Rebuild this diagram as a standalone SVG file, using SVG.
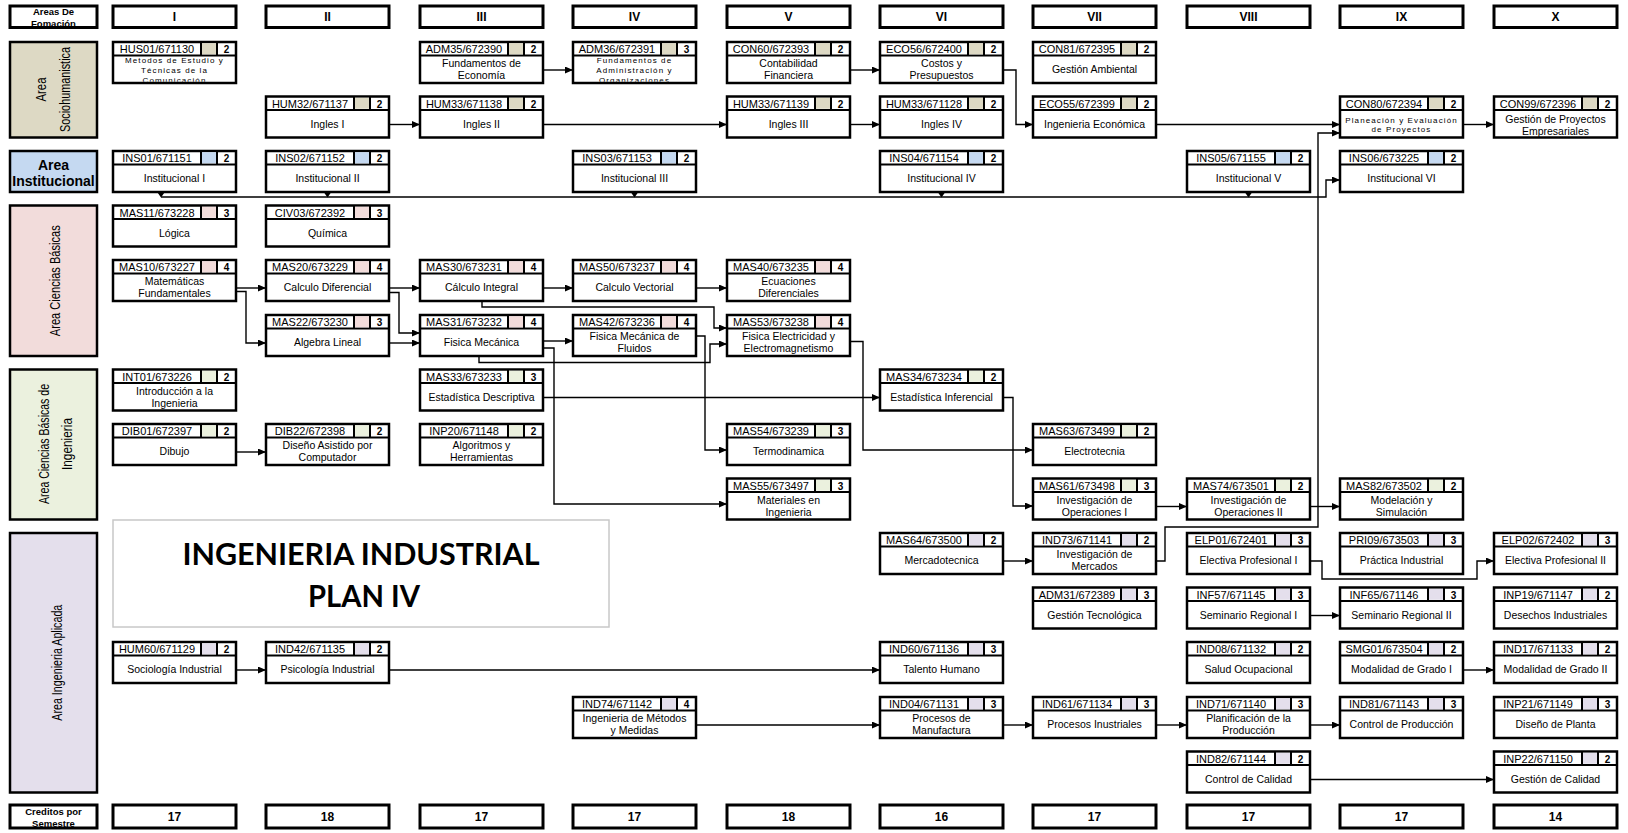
<svg xmlns="http://www.w3.org/2000/svg" width="1628" height="833" viewBox="0 0 1628 833">
<defs>
<style>
text{font-family:"Liberation Sans",Arial,sans-serif;fill:#000}
.nb{fill:#fff;stroke:#000;stroke-width:2.5}
.dv{fill:none;stroke:#000;stroke-width:2}
.cd{font-size:11px;text-anchor:middle}
.cr{font-size:10px;font-weight:bold;text-anchor:middle}
.nm{font-size:10.5px;text-anchor:middle}
.sm{font-size:8px;letter-spacing:1.1px;text-anchor:middle}
.cs{fill:#DDD9C4}.ci{fill:#C5D9F1}.cb{fill:#F2DCDB}.ce{fill:#EBF1DE}.ca{fill:#E4DFEC}
.hb{fill:#fff;stroke:#000;stroke-width:3}
.ht{font-size:12px;font-weight:bold;text-anchor:middle}
.hs{font-size:9.5px;font-weight:bold;text-anchor:middle}
.ab{stroke:#000;stroke-width:2.5}
.vl{font-size:15px;text-anchor:middle;dominant-baseline:central}
.cn{fill:none;stroke:#000;stroke-width:1.4;marker-end:url(#ah)}
.tri{fill:#000}
.tt{font-family:Lato,"Open Sans",sans-serif;font-weight:bold;font-size:31px;text-anchor:middle}
</style>
<marker id="ah" markerUnits="userSpaceOnUse" markerWidth="8" markerHeight="7" refX="8" refY="3.5" orient="auto"><path d="M0,0L8,3.5L0,7z" fill="#000"/></marker>
<g id="fr"><rect class="nb" width="123" height="41"/><path class="dv" d="M0 13.5H123M88 0V13.5M104 0V13.5"/></g>
<clipPath id="nc"><rect x="1" y="14" width="121" height="25.8"/></clipPath>
<clipPath id="hc1"><rect x="11" y="7" width="85" height="19.5"/></clipPath>
<clipPath id="hc2"><rect x="11" y="806" width="85" height="21"/></clipPath>
</defs>
<rect width="1628" height="833" fill="#fff"/>

<!-- area column -->
<g id="areas">
<rect class="hb" x="10" y="6" width="87" height="21.5"/>
<text class="hs" clip-path="url(#hc1)"><tspan x="53.5" y="15">Areas De</tspan><tspan x="53.5" y="26.5">Fomación</tspan></text>
<rect class="cs ab" x="10" y="42" width="87" height="95.5"/>
<text class="vl" transform="translate(40,89.5) rotate(-90)" textLength="24" lengthAdjust="spacingAndGlyphs">Area</text>
<text class="vl" transform="translate(64,89.5) rotate(-90)" textLength="85" lengthAdjust="spacingAndGlyphs">Sociohumanistica</text>
<rect class="ci ab" x="10" y="151" width="87" height="41"/>
<text style="font-size:14px;font-weight:bold;text-anchor:middle"><tspan x="53.5" y="170">Area</tspan><tspan x="53.5" y="186">Institucional</tspan></text>
<rect class="cb ab" x="10" y="205.5" width="87" height="150.5"/>
<text class="vl" transform="translate(54,280.7) rotate(-90)" textLength="111" lengthAdjust="spacingAndGlyphs">Area Ciencias Básicas</text>
<rect class="ce ab" x="10" y="369.5" width="87" height="150"/>
<text class="vl" transform="translate(43.5,444) rotate(-90)" textLength="120" lengthAdjust="spacingAndGlyphs">Area Ciencias Básicas de</text>
<text class="vl" transform="translate(66,444) rotate(-90)" textLength="52" lengthAdjust="spacingAndGlyphs">Ingenieria</text>
<rect class="ca ab" x="10" y="533" width="87" height="259.5"/>
<text class="vl" transform="translate(56,662.7) rotate(-90)" textLength="116" lengthAdjust="spacingAndGlyphs">Area Ingenieria Aplicada</text>
<rect class="hb" x="10" y="805" width="87" height="23"/>
<text class="hs" clip-path="url(#hc2)"><tspan x="53.5" y="815">Creditos por</tspan><tspan x="53.5" y="827">Semestre</tspan></text>
</g>

<!-- semester headers -->
<g id="headers">
<rect class="hb" x="113" y="6" width="123" height="21.5"/><text class="ht" x="174.5" y="21">I</text>
<rect class="hb" x="266" y="6" width="123" height="21.5"/><text class="ht" x="327.5" y="21">II</text>
<rect class="hb" x="420" y="6" width="123" height="21.5"/><text class="ht" x="481.5" y="21">III</text>
<rect class="hb" x="573" y="6" width="123" height="21.5"/><text class="ht" x="634.5" y="21">IV</text>
<rect class="hb" x="727" y="6" width="123" height="21.5"/><text class="ht" x="788.5" y="21">V</text>
<rect class="hb" x="880" y="6" width="123" height="21.5"/><text class="ht" x="941.5" y="21">VI</text>
<rect class="hb" x="1033" y="6" width="123" height="21.5"/><text class="ht" x="1094.5" y="21">VII</text>
<rect class="hb" x="1187" y="6" width="123" height="21.5"/><text class="ht" x="1248.5" y="21">VIII</text>
<rect class="hb" x="1340" y="6" width="123" height="21.5"/><text class="ht" x="1401.5" y="21">IX</text>
<rect class="hb" x="1494" y="6" width="123" height="21.5"/><text class="ht" x="1555.5" y="21">X</text>
</g>

<g id="credits">
<rect class="hb" x="113" y="805" width="123" height="23"/><text class="ht" x="174.5" y="821">17</text>
<rect class="hb" x="266" y="805" width="123" height="23"/><text class="ht" x="327.5" y="821">18</text>
<rect class="hb" x="420" y="805" width="123" height="23"/><text class="ht" x="481.5" y="821">17</text>
<rect class="hb" x="573" y="805" width="123" height="23"/><text class="ht" x="634.5" y="821">17</text>
<rect class="hb" x="727" y="805" width="123" height="23"/><text class="ht" x="788.5" y="821">18</text>
<rect class="hb" x="880" y="805" width="123" height="23"/><text class="ht" x="941.5" y="821">16</text>
<rect class="hb" x="1033" y="805" width="123" height="23"/><text class="ht" x="1094.5" y="821">17</text>
<rect class="hb" x="1187" y="805" width="123" height="23"/><text class="ht" x="1248.5" y="821">17</text>
<rect class="hb" x="1340" y="805" width="123" height="23"/><text class="ht" x="1401.5" y="821">17</text>
<rect class="hb" x="1494" y="805" width="123" height="23"/><text class="ht" x="1555.5" y="821">14</text>
</g>

<g id="title">
<rect x="113" y="520" width="496" height="107" fill="#fff" stroke="#c8c8c8" stroke-width="1.5"/>
<text class="tt" x="361" y="565" textLength="357" lengthAdjust="spacingAndGlyphs">INGENIERIA INDUSTRIAL</text>
<text class="tt" x="364" y="607" textLength="112" lengthAdjust="spacingAndGlyphs">PLAN IV</text>
</g>

<!-- connectors -->
<g id="connectors">
<path class="cn" d="M543 70H573"/>
<path class="cn" d="M850 70H880"/>
<path class="cn" d="M1003 70H1016V124.5H1033"/>
<path class="cn" d="M389 124.5H420"/>
<path class="cn" d="M543 124.5H727"/>
<path class="cn" d="M850 124.5H880"/>
<path class="cn" d="M1156 124.5H1340"/>
<path class="cn" d="M1156 561H1165V527H1318V133H1340"/>
<path class="cn" d="M1463 124.5H1494"/>
<path class="cn" d="M161 197H1326V180H1340"/>
<polygon class="tri" points="157.5,192.5 164.5,192.5 161,197.5"/>
<polygon class="tri" points="324,192.5 331,192.5 327.5,197.5"/>
<polygon class="tri" points="631,192.5 638,192.5 634.5,197.5"/>
<polygon class="tri" points="938,192.5 945,192.5 941.5,197.5"/>
<polygon class="tri" points="1245,192.5 1252,192.5 1248.5,197.5"/>
<path class="cn" d="M236 288H266"/>
<path class="cn" d="M236 291.5H246V343H266"/>
<path class="cn" d="M389 288H420"/>
<path class="cn" d="M389 292.5H399V333H420"/>
<path class="cn" d="M389 343H420"/>
<path class="cn" d="M543 288H573"/>
<path class="cn" d="M696 288H727"/>
<path class="cn" d="M482 301V307H714V328H727"/>
<path class="cn" d="M543 341H573"/>
<path class="cn" d="M479 356V362.5H710V344H727"/>
<path class="cn" d="M543 348H554V504H727"/>
<path class="cn" d="M696 336H705V450H727"/>
<path class="cn" d="M850 341.5H863V450H1033"/>
<path class="cn" d="M543 397.5H880"/>
<path class="cn" d="M1003 397.5H1013V506H1033"/>
<path class="cn" d="M1156 506.5H1187"/>
<path class="cn" d="M1310 506.5H1340"/>
<path class="cn" d="M236 452H266"/>
<path class="cn" d="M1003 561H1033"/>
<path class="cn" d="M1310 561H1322V579H1477V561H1494"/>
<path class="cn" d="M1310 615.5H1340"/>
<path class="cn" d="M236 670H266"/>
<path class="cn" d="M389 670H880"/>
<path class="cn" d="M1463 670H1494"/>
<path class="cn" d="M696 725H880"/>
<path class="cn" d="M1003 725H1033"/>
<path class="cn" d="M1156 725H1187"/>
<path class="cn" d="M1310 725H1340"/>
<path class="cn" d="M1310 779.5H1494"/>
</g>

<!-- Area Sociohumanistica -->
<g id="HUS01" transform="translate(113,42)"><use href="#fr"/><rect class="cs" x="89" y="1.25" width="14" height="11"/><text class="cd" x="44" y="11">HUS01/671130</text><text class="cr" x="113.5" y="11">2</text><text class="sm" clip-path="url(#nc)"><tspan x="61.5" y="21">Metodos de Estudio y</tspan><tspan x="61.5" y="30.5">Técnicas de la</tspan><tspan x="61.5" y="40.5">Comunicación</tspan></text></g>
<g id="ADM35" transform="translate(420,42)"><use href="#fr"/><rect class="cs" x="89" y="1.25" width="14" height="11"/><text class="cd" x="44" y="11">ADM35/672390</text><text class="cr" x="113.5" y="11">2</text><text class="nm"><tspan x="61.5" y="25">Fundamentos de</tspan><tspan x="61.5" y="37">Economía</tspan></text></g>
<g id="ADM36" transform="translate(573,42)"><use href="#fr"/><rect class="cs" x="89" y="1.25" width="14" height="11"/><text class="cd" x="44" y="11">ADM36/672391</text><text class="cr" x="113.5" y="11">3</text><text class="sm" clip-path="url(#nc)"><tspan x="61.5" y="21">Fundamentos de</tspan><tspan x="61.5" y="30.5">Administración y</tspan><tspan x="61.5" y="40.5">Organizaciones</tspan></text></g>
<g id="CON60" transform="translate(727,42)"><use href="#fr"/><rect class="cs" x="89" y="1.25" width="14" height="11"/><text class="cd" x="44" y="11">CON60/672393</text><text class="cr" x="113.5" y="11">2</text><text class="nm"><tspan x="61.5" y="25">Contabilidad</tspan><tspan x="61.5" y="37">Financiera</tspan></text></g>
<g id="ECO56" transform="translate(880,42)"><use href="#fr"/><rect class="cs" x="89" y="1.25" width="14" height="11"/><text class="cd" x="44" y="11">ECO56/672400</text><text class="cr" x="113.5" y="11">2</text><text class="nm"><tspan x="61.5" y="25">Costos y</tspan><tspan x="61.5" y="37">Presupuestos</tspan></text></g>
<g id="CON81" transform="translate(1033,42)"><use href="#fr"/><rect class="cs" x="89" y="1.25" width="14" height="11"/><text class="cd" x="44" y="11">CON81/672395</text><text class="cr" x="113.5" y="11">2</text><text class="nm" x="61.5" y="31">Gestión Ambiental</text></g>
<g id="HUM32" transform="translate(266,96.5)"><use href="#fr"/><rect class="cs" x="89" y="1.25" width="14" height="11"/><text class="cd" x="44" y="11">HUM32/671137</text><text class="cr" x="113.5" y="11">2</text><text class="nm" x="61.5" y="31">Ingles I</text></g>
<g id="HUM33-671138" transform="translate(420,96.5)"><use href="#fr"/><rect class="cs" x="89" y="1.25" width="14" height="11"/><text class="cd" x="44" y="11">HUM33/671138</text><text class="cr" x="113.5" y="11">2</text><text class="nm" x="61.5" y="31">Ingles II</text></g>
<g id="HUM33-671139" transform="translate(727,96.5)"><use href="#fr"/><rect class="cs" x="89" y="1.25" width="14" height="11"/><text class="cd" x="44" y="11">HUM33/671139</text><text class="cr" x="113.5" y="11">2</text><text class="nm" x="61.5" y="31">Ingles III</text></g>
<g id="HUM33-671128" transform="translate(880,96.5)"><use href="#fr"/><rect class="cs" x="89" y="1.25" width="14" height="11"/><text class="cd" x="44" y="11">HUM33/671128</text><text class="cr" x="113.5" y="11">2</text><text class="nm" x="61.5" y="31">Ingles IV</text></g>
<g id="ECO55" transform="translate(1033,96.5)"><use href="#fr"/><rect class="cs" x="89" y="1.25" width="14" height="11"/><text class="cd" x="44" y="11">ECO55/672399</text><text class="cr" x="113.5" y="11">2</text><text class="nm" x="61.5" y="31">Ingenieria Económica</text></g>
<g id="CON80" transform="translate(1340,96.5)"><use href="#fr"/><rect class="cs" x="89" y="1.25" width="14" height="11"/><text class="cd" x="44" y="11">CON80/672394</text><text class="cr" x="113.5" y="11">2</text><text class="sm"><tspan x="61.5" y="26">Planeación y Evaluación</tspan><tspan x="61.5" y="35">de Proyectos</tspan></text></g>
<g id="CON99" transform="translate(1494,96.5)"><use href="#fr"/><rect class="cs" x="89" y="1.25" width="14" height="11"/><text class="cd" x="44" y="11">CON99/672396</text><text class="cr" x="113.5" y="11">2</text><text class="nm"><tspan x="61.5" y="26.5">Gestión de Proyectos</tspan><tspan x="61.5" y="38.5">Empresariales</tspan></text></g>

<!-- Area Institucional -->
<g id="INS01" transform="translate(113,151)"><use href="#fr"/><rect class="ci" x="89" y="1.25" width="14" height="11"/><text class="cd" x="44" y="11">INS01/671151</text><text class="cr" x="113.5" y="11">2</text><text class="nm" x="61.5" y="31">Institucional I</text></g>
<g id="INS02" transform="translate(266,151)"><use href="#fr"/><rect class="ci" x="89" y="1.25" width="14" height="11"/><text class="cd" x="44" y="11">INS02/671152</text><text class="cr" x="113.5" y="11">2</text><text class="nm" x="61.5" y="31">Institucional II</text></g>
<g id="INS03" transform="translate(573,151)"><use href="#fr"/><rect class="ci" x="89" y="1.25" width="14" height="11"/><text class="cd" x="44" y="11">INS03/671153</text><text class="cr" x="113.5" y="11">2</text><text class="nm" x="61.5" y="31">Institucional III</text></g>
<g id="INS04" transform="translate(880,151)"><use href="#fr"/><rect class="ci" x="89" y="1.25" width="14" height="11"/><text class="cd" x="44" y="11">INS04/671154</text><text class="cr" x="113.5" y="11">2</text><text class="nm" x="61.5" y="31">Institucional IV</text></g>
<g id="INS05" transform="translate(1187,151)"><use href="#fr"/><rect class="ci" x="89" y="1.25" width="14" height="11"/><text class="cd" x="44" y="11">INS05/671155</text><text class="cr" x="113.5" y="11">2</text><text class="nm" x="61.5" y="31">Institucional V</text></g>
<g id="INS06" transform="translate(1340,151)"><use href="#fr"/><rect class="ci" x="89" y="1.25" width="14" height="11"/><text class="cd" x="44" y="11">INS06/673225</text><text class="cr" x="113.5" y="11">2</text><text class="nm" x="61.5" y="31">Institucional VI</text></g>

<!-- Area Ciencias Basicas -->
<g id="MAS11" transform="translate(113,205.5)"><use href="#fr"/><rect class="cb" x="89" y="1.25" width="14" height="11"/><text class="cd" x="44" y="11">MAS11/673228</text><text class="cr" x="113.5" y="11">3</text><text class="nm" x="61.5" y="31">Lógica</text></g>
<g id="CIV03" transform="translate(266,205.5)"><use href="#fr"/><rect class="cb" x="89" y="1.25" width="14" height="11"/><text class="cd" x="44" y="11">CIV03/672392</text><text class="cr" x="113.5" y="11">3</text><text class="nm" x="61.5" y="31">Química</text></g>
<g id="MAS10" transform="translate(113,260)"><use href="#fr"/><rect class="cb" x="89" y="1.25" width="14" height="11"/><text class="cd" x="44" y="11">MAS10/673227</text><text class="cr" x="113.5" y="11">4</text><text class="nm"><tspan x="61.5" y="25">Matemáticas</tspan><tspan x="61.5" y="37">Fundamentales</tspan></text></g>
<g id="MAS20" transform="translate(266,260)"><use href="#fr"/><rect class="cb" x="89" y="1.25" width="14" height="11"/><text class="cd" x="44" y="11">MAS20/673229</text><text class="cr" x="113.5" y="11">4</text><text class="nm" x="61.5" y="31">Calculo Diferencial</text></g>
<g id="MAS30" transform="translate(420,260)"><use href="#fr"/><rect class="cb" x="89" y="1.25" width="14" height="11"/><text class="cd" x="44" y="11">MAS30/673231</text><text class="cr" x="113.5" y="11">4</text><text class="nm" x="61.5" y="31">Cálculo Integral</text></g>
<g id="MAS50" transform="translate(573,260)"><use href="#fr"/><rect class="cb" x="89" y="1.25" width="14" height="11"/><text class="cd" x="44" y="11">MAS50/673237</text><text class="cr" x="113.5" y="11">4</text><text class="nm" x="61.5" y="31">Calculo Vectorial</text></g>
<g id="MAS40" transform="translate(727,260)"><use href="#fr"/><rect class="cb" x="89" y="1.25" width="14" height="11"/><text class="cd" x="44" y="11">MAS40/673235</text><text class="cr" x="113.5" y="11">4</text><text class="nm"><tspan x="61.5" y="25">Ecuaciones</tspan><tspan x="61.5" y="37">Diferenciales</tspan></text></g>
<g id="MAS22" transform="translate(266,315)"><use href="#fr"/><rect class="cb" x="89" y="1.25" width="14" height="11"/><text class="cd" x="44" y="11">MAS22/673230</text><text class="cr" x="113.5" y="11">3</text><text class="nm" x="61.5" y="31">Algebra Lineal</text></g>
<g id="MAS31" transform="translate(420,315)"><use href="#fr"/><rect class="cb" x="89" y="1.25" width="14" height="11"/><text class="cd" x="44" y="11">MAS31/673232</text><text class="cr" x="113.5" y="11">4</text><text class="nm" x="61.5" y="31">Fisica Mecánica</text></g>
<g id="MAS42" transform="translate(573,315)"><use href="#fr"/><rect class="cb" x="89" y="1.25" width="14" height="11"/><text class="cd" x="44" y="11">MAS42/673236</text><text class="cr" x="113.5" y="11">4</text><text class="nm"><tspan x="61.5" y="25">Fisica Mecánica de</tspan><tspan x="61.5" y="37">Fluidos</tspan></text></g>
<g id="MAS53" transform="translate(727,315)"><use href="#fr"/><rect class="cb" x="89" y="1.25" width="14" height="11"/><text class="cd" x="44" y="11">MAS53/673238</text><text class="cr" x="113.5" y="11">4</text><text class="nm"><tspan x="61.5" y="25">Fisica Electricidad y</tspan><tspan x="61.5" y="37">Electromagnetismo</tspan></text></g>

<!-- Area Ciencias Basicas de Ingenieria -->
<g id="INT01" transform="translate(113,369.5)"><use href="#fr"/><rect class="ce" x="89" y="1.25" width="14" height="11"/><text class="cd" x="44" y="11">INT01/673226</text><text class="cr" x="113.5" y="11">2</text><text class="nm"><tspan x="61.5" y="25">Introducción a la</tspan><tspan x="61.5" y="37">Ingenieria</tspan></text></g>
<g id="MAS33" transform="translate(420,369.5)"><use href="#fr"/><rect class="ce" x="89" y="1.25" width="14" height="11"/><text class="cd" x="44" y="11">MAS33/673233</text><text class="cr" x="113.5" y="11">3</text><text class="nm" x="61.5" y="31">Estadística Descriptiva</text></g>
<g id="MAS34" transform="translate(880,369.5)"><use href="#fr"/><rect class="ce" x="89" y="1.25" width="14" height="11"/><text class="cd" x="44" y="11">MAS34/673234</text><text class="cr" x="113.5" y="11">2</text><text class="nm" x="61.5" y="31">Estadística Inferencial</text></g>
<g id="DIB01" transform="translate(113,424)"><use href="#fr"/><rect class="ce" x="89" y="1.25" width="14" height="11"/><text class="cd" x="44" y="11">DIB01/672397</text><text class="cr" x="113.5" y="11">2</text><text class="nm" x="61.5" y="31">Dibujo</text></g>
<g id="DIB22" transform="translate(266,424)"><use href="#fr"/><rect class="ce" x="89" y="1.25" width="14" height="11"/><text class="cd" x="44" y="11">DIB22/672398</text><text class="cr" x="113.5" y="11">2</text><text class="nm"><tspan x="61.5" y="25">Diseño Asistido por</tspan><tspan x="61.5" y="37">Computador</tspan></text></g>
<g id="INP20" transform="translate(420,424)"><use href="#fr"/><rect class="ce" x="89" y="1.25" width="14" height="11"/><text class="cd" x="44" y="11">INP20/671148</text><text class="cr" x="113.5" y="11">2</text><text class="nm"><tspan x="61.5" y="25">Algoritmos y</tspan><tspan x="61.5" y="37">Herramientas</tspan></text></g>
<g id="MAS54" transform="translate(727,424)"><use href="#fr"/><rect class="ce" x="89" y="1.25" width="14" height="11"/><text class="cd" x="44" y="11">MAS54/673239</text><text class="cr" x="113.5" y="11">3</text><text class="nm" x="61.5" y="31">Termodinamica</text></g>
<g id="MAS63" transform="translate(1033,424)"><use href="#fr"/><rect class="ce" x="89" y="1.25" width="14" height="11"/><text class="cd" x="44" y="11">MAS63/673499</text><text class="cr" x="113.5" y="11">2</text><text class="nm" x="61.5" y="31">Electrotecnia</text></g>
<g id="MAS55" transform="translate(727,478.5)"><use href="#fr"/><rect class="ce" x="89" y="1.25" width="14" height="11"/><text class="cd" x="44" y="11">MAS55/673497</text><text class="cr" x="113.5" y="11">3</text><text class="nm"><tspan x="61.5" y="25">Materiales en</tspan><tspan x="61.5" y="37">Ingenieria</tspan></text></g>
<g id="MAS61" transform="translate(1033,478.5)"><use href="#fr"/><rect class="ce" x="89" y="1.25" width="14" height="11"/><text class="cd" x="44" y="11">MAS61/673498</text><text class="cr" x="113.5" y="11">3</text><text class="nm"><tspan x="61.5" y="25">Investigación de</tspan><tspan x="61.5" y="37">Operaciones I</tspan></text></g>
<g id="MAS74" transform="translate(1187,478.5)"><use href="#fr"/><rect class="ce" x="89" y="1.25" width="14" height="11"/><text class="cd" x="44" y="11">MAS74/673501</text><text class="cr" x="113.5" y="11">2</text><text class="nm"><tspan x="61.5" y="25">Investigación de</tspan><tspan x="61.5" y="37">Operaciones II</tspan></text></g>
<g id="MAS82" transform="translate(1340,478.5)"><use href="#fr"/><rect class="ce" x="89" y="1.25" width="14" height="11"/><text class="cd" x="44" y="11">MAS82/673502</text><text class="cr" x="113.5" y="11">2</text><text class="nm"><tspan x="61.5" y="25">Modelación y</tspan><tspan x="61.5" y="37">Simulación</tspan></text></g>

<!-- Area Ingenieria Aplicada -->
<g id="MAS64" transform="translate(880,533)"><use href="#fr"/><rect class="ca" x="89" y="1.25" width="14" height="11"/><text class="cd" x="44" y="11">MAS64/673500</text><text class="cr" x="113.5" y="11">2</text><text class="nm" x="61.5" y="31">Mercadotecnica</text></g>
<g id="IND73" transform="translate(1033,533)"><use href="#fr"/><rect class="ca" x="89" y="1.25" width="14" height="11"/><text class="cd" x="44" y="11">IND73/671141</text><text class="cr" x="113.5" y="11">2</text><text class="nm"><tspan x="61.5" y="25">Investigación de</tspan><tspan x="61.5" y="37">Mercados</tspan></text></g>
<g id="ELP01" transform="translate(1187,533)"><use href="#fr"/><rect class="ca" x="89" y="1.25" width="14" height="11"/><text class="cd" x="44" y="11">ELP01/672401</text><text class="cr" x="113.5" y="11">3</text><text class="nm" x="61.5" y="31">Electiva Profesional I</text></g>
<g id="PRI09" transform="translate(1340,533)"><use href="#fr"/><rect class="ca" x="89" y="1.25" width="14" height="11"/><text class="cd" x="44" y="11">PRI09/673503</text><text class="cr" x="113.5" y="11">3</text><text class="nm" x="61.5" y="31">Práctica Industrial</text></g>
<g id="ELP02" transform="translate(1494,533)"><use href="#fr"/><rect class="ca" x="89" y="1.25" width="14" height="11"/><text class="cd" x="44" y="11">ELP02/672402</text><text class="cr" x="113.5" y="11">3</text><text class="nm" x="61.5" y="31">Electiva Profesional II</text></g>
<g id="ADM31" transform="translate(1033,587.5)"><use href="#fr"/><rect class="ca" x="89" y="1.25" width="14" height="11"/><text class="cd" x="44" y="11">ADM31/672389</text><text class="cr" x="113.5" y="11">3</text><text class="nm" x="61.5" y="31">Gestión Tecnológica</text></g>
<g id="INF57" transform="translate(1187,587.5)"><use href="#fr"/><rect class="ca" x="89" y="1.25" width="14" height="11"/><text class="cd" x="44" y="11">INF57/671145</text><text class="cr" x="113.5" y="11">3</text><text class="nm" x="61.5" y="31">Seminario Regional I</text></g>
<g id="INF65" transform="translate(1340,587.5)"><use href="#fr"/><rect class="ca" x="89" y="1.25" width="14" height="11"/><text class="cd" x="44" y="11">INF65/671146</text><text class="cr" x="113.5" y="11">3</text><text class="nm" x="61.5" y="31">Seminario Regional II</text></g>
<g id="INP19" transform="translate(1494,587.5)"><use href="#fr"/><rect class="ca" x="89" y="1.25" width="14" height="11"/><text class="cd" x="44" y="11">INP19/671147</text><text class="cr" x="113.5" y="11">2</text><text class="nm" x="61.5" y="31">Desechos Industriales</text></g>
<g id="HUM60" transform="translate(113,642)"><use href="#fr"/><rect class="ca" x="89" y="1.25" width="14" height="11"/><text class="cd" x="44" y="11">HUM60/671129</text><text class="cr" x="113.5" y="11">2</text><text class="nm" x="61.5" y="31">Sociología Industrial</text></g>
<g id="IND42" transform="translate(266,642)"><use href="#fr"/><rect class="ca" x="89" y="1.25" width="14" height="11"/><text class="cd" x="44" y="11">IND42/671135</text><text class="cr" x="113.5" y="11">2</text><text class="nm" x="61.5" y="31">Psicología Industrial</text></g>
<g id="IND60" transform="translate(880,642)"><use href="#fr"/><rect class="ca" x="89" y="1.25" width="14" height="11"/><text class="cd" x="44" y="11">IND60/671136</text><text class="cr" x="113.5" y="11">3</text><text class="nm" x="61.5" y="31">Talento Humano</text></g>
<g id="IND08" transform="translate(1187,642)"><use href="#fr"/><rect class="ca" x="89" y="1.25" width="14" height="11"/><text class="cd" x="44" y="11">IND08/671132</text><text class="cr" x="113.5" y="11">2</text><text class="nm" x="61.5" y="31">Salud Ocupacional</text></g>
<g id="SMG01" transform="translate(1340,642)"><use href="#fr"/><rect class="ca" x="89" y="1.25" width="14" height="11"/><text class="cd" x="44" y="11">SMG01/673504</text><text class="cr" x="113.5" y="11">2</text><text class="nm" x="61.5" y="31">Modalidad de Grado I</text></g>
<g id="IND17" transform="translate(1494,642)"><use href="#fr"/><rect class="ca" x="89" y="1.25" width="14" height="11"/><text class="cd" x="44" y="11">IND17/671133</text><text class="cr" x="113.5" y="11">2</text><text class="nm" x="61.5" y="31">Modalidad de Grado II</text></g>
<g id="IND74" transform="translate(573,697)"><use href="#fr"/><rect class="ca" x="89" y="1.25" width="14" height="11"/><text class="cd" x="44" y="11">IND74/671142</text><text class="cr" x="113.5" y="11">4</text><text class="nm"><tspan x="61.5" y="25">Ingenieria de Métodos</tspan><tspan x="61.5" y="37">y Medidas</tspan></text></g>
<g id="IND04" transform="translate(880,697)"><use href="#fr"/><rect class="ca" x="89" y="1.25" width="14" height="11"/><text class="cd" x="44" y="11">IND04/671131</text><text class="cr" x="113.5" y="11">3</text><text class="nm"><tspan x="61.5" y="25">Procesos de</tspan><tspan x="61.5" y="37">Manufactura</tspan></text></g>
<g id="IND61" transform="translate(1033,697)"><use href="#fr"/><rect class="ca" x="89" y="1.25" width="14" height="11"/><text class="cd" x="44" y="11">IND61/671134</text><text class="cr" x="113.5" y="11">3</text><text class="nm" x="61.5" y="31">Procesos Inustriales</text></g>
<g id="IND71" transform="translate(1187,697)"><use href="#fr"/><rect class="ca" x="89" y="1.25" width="14" height="11"/><text class="cd" x="44" y="11">IND71/671140</text><text class="cr" x="113.5" y="11">3</text><text class="nm"><tspan x="61.5" y="25">Planificación de la</tspan><tspan x="61.5" y="37">Producción</tspan></text></g>
<g id="IND81" transform="translate(1340,697)"><use href="#fr"/><rect class="ca" x="89" y="1.25" width="14" height="11"/><text class="cd" x="44" y="11">IND81/671143</text><text class="cr" x="113.5" y="11">3</text><text class="nm" x="61.5" y="31">Control de Producción</text></g>
<g id="INP21" transform="translate(1494,697)"><use href="#fr"/><rect class="ca" x="89" y="1.25" width="14" height="11"/><text class="cd" x="44" y="11">INP21/671149</text><text class="cr" x="113.5" y="11">3</text><text class="nm" x="61.5" y="31">Diseño de Planta</text></g>
<g id="IND82" transform="translate(1187,751.5)"><use href="#fr"/><rect class="ca" x="89" y="1.25" width="14" height="11"/><text class="cd" x="44" y="11">IND82/671144</text><text class="cr" x="113.5" y="11">2</text><text class="nm" x="61.5" y="31">Control de Calidad</text></g>
<g id="INP22" transform="translate(1494,751.5)"><use href="#fr"/><rect class="ca" x="89" y="1.25" width="14" height="11"/><text class="cd" x="44" y="11">INP22/671150</text><text class="cr" x="113.5" y="11">2</text><text class="nm" x="61.5" y="31">Gestión de Calidad</text></g>
</svg>
